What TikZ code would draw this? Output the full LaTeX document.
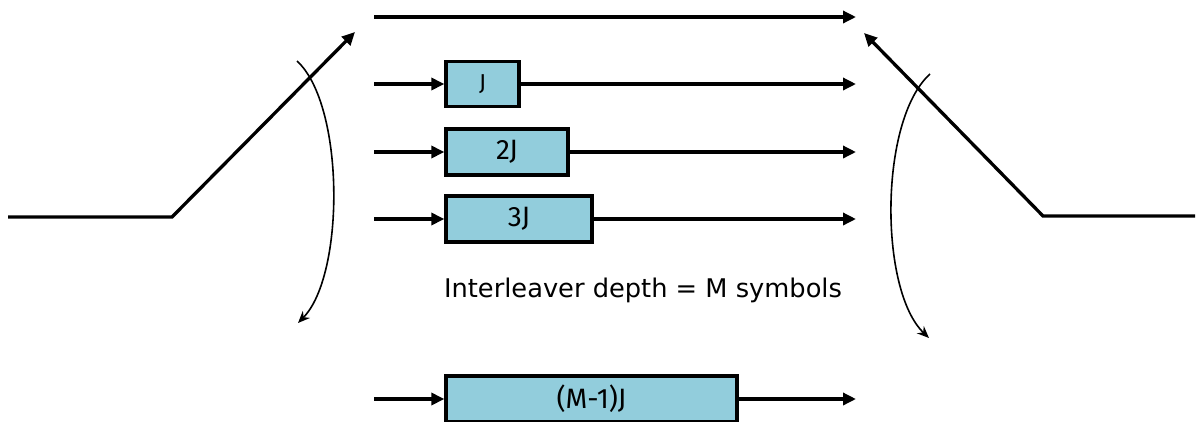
\documentclass[tikz,border=0pt]{standalone}
\usepackage{fontspec}
\setmainfont{DejaVu Sans}
\newfontfamily\boxfont{Fira Sans}
\usetikzlibrary{arrows.meta}
\definecolor{boxblue}{RGB}{146,205,220}
\begin{document}
\begin{tikzpicture}[x=1pt,y=-1pt,
  thick line/.style={line width=3.3pt},
  arr/.style={thick line, -{Triangle[length=13pt,width=12pt]}},
  swing/.style={line width=1.6pt, -{Stealth[length=12pt,width=10pt]}},
  delaybox/.style={draw, line width=3.3pt, fill=boxblue, inner sep=0pt, anchor=center, font=\boxfont\fontsize{28}{32}\selectfont},
  label/.style={font=\fontsize{25.7}{30}\selectfont}]
\useasboundingbox (0,0) rectangle (1198,421);
\clip (0,0) rectangle (1198,421);

% delay boxes
\node[delaybox, minimum width=73pt, minimum height=45pt, font=\boxfont\fontsize{23}{27}\selectfont] (d1) at (482.5,84) {J};
\node[delaybox, minimum width=122pt, minimum height=46pt] (d2) at (507,152) {2J};
\node[delaybox, minimum width=146pt, minimum height=46pt] (d3) at (519,219) {3J};
\node[delaybox, minimum width=291pt, minimum height=46pt] (dm) at (591.5,399) {(M-1)J};

% branch end points
\coordinate (s0) at (374,17);
\coordinate (e0) at (856,17);
\coordinate (s1) at (374,84);
\coordinate (e1) at (856,84);
\coordinate (s2) at (374,152);
\coordinate (e2) at (856,152);
\coordinate (s3) at (374,219);
\coordinate (e3) at (856,219);
\coordinate (sm) at (374,399);
\coordinate (em) at (856,399);

\draw[arr] (s0) -- (e0);
\draw[arr] (s1) -- (d1.west);
\draw[arr] (d1.east) -- (e1);
\draw[arr] (s2) -- (d2.west);
\draw[arr] (d2.east) -- (e2);
\draw[arr] (s3) -- (d3.west);
\draw[arr] (d3.east) -- (e3);
\draw[arr] (sm) -- (dm.west);
\draw[arr] (dm.east) -- (em);

% label
\node[label] (depth) at (643,290) {Interleaver depth = M symbols};

% input commutator
\coordinate (inL) at (8,217);
\coordinate (pivL) at (172,217);
\coordinate (tipL) at (355,32);
\draw[arr, line join=miter] (inL) -- (pivL) -- (tipL);

% output commutator
\coordinate (outR) at (1195,216);
\coordinate (pivR) at (1043,216);
\coordinate (tipR) at (864,33);
\draw[arr, line join=miter] (outR) -- (pivR) -- (tipR);

% swing arrows
\coordinate (swLa) at (297,61);
\coordinate (swLb) at (298,323);
\draw[swing] (swLa) .. controls (345,105) and (345,275) .. (swLb);
\coordinate (swRa) at (930,74);
\coordinate (swRb) at (929,338);
\draw[swing] (swRa) .. controls (879,120) and (879,290) .. (swRb);
\end{tikzpicture}
\end{document}
